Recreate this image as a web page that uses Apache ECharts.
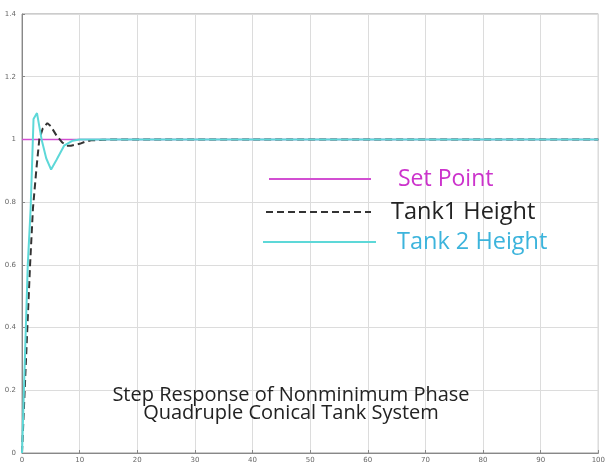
<!DOCTYPE html>
<html>
<head>
<meta charset="utf-8">
<script src="https://cdn.jsdelivr.net/npm/echarts@6/dist/echarts.min.js"></script>
<style>
  html, body { margin: 0; padding: 0; background: #fff; }
  #chart { width: 608px; height: 464px; }
</style>
</head>
<body>
<div id="chart"></div>
<script>
// Time axis ticks and range
const xTicks = [0, 10, 20, 30, 40, 50, 60, 70, 80, 90, 100];
const yTicks = [0, 0.2, 0.4, 0.6, 0.8, 1, 1.2, 1.4];

// Set point (unit step)
const setPointT = [0, 100];
const setPointY = [1, 1];

// Tank 1 height response
const tank1T = [0, 1, 1.4, 1.9, 2.5, 3.0, 3.6, 4.4, 5.0, 6.0, 7.0, 7.7, 8.5, 10, 11, 12, 14, 16, 20, 100];
const tank1Y = [0, 0.43, 0.6, 0.78, 0.906, 1.0, 1.035, 1.052, 1.042, 1.012, 0.99, 0.98, 0.98, 0.986, 0.993, 0.997, 0.999, 1, 1, 1];

// Tank 2 height response
const tank2T = [0, 1.0, 1.5, 2.0, 2.6, 3.4, 4.2, 5.05, 6.0, 7.3, 8.8, 10, 12, 100];
const tank2Y = [0, 0.6, 0.78, 1.065, 1.084, 1.0, 0.94, 0.904, 0.935, 0.98, 0.996, 1.0, 1.0, 1.0];

const seriesNames = ['Set Point', 'Tank1 Height', 'Tank 2 Height'];
const titleLines = ['Step Response of Nonminimum Phase', 'Quadruple Conical Tank System'];

const zip = (a, b) => a.map((v, i) => [v, b[i]]);

const chart = echarts.init(document.getElementById('chart'), null, { renderer: 'canvas' });

const legendFont = { fontFamily: 'Open Sans', fontSize: 23, lineHeight: 24 };
// hide the marker dot, keep only the line sample
const legendItem = { opacity: 0 };

chart.setOption({
  backgroundColor: '#ffffff',
  animation: false,
  title: {
    text: titleLines.join('\n'),
    left: 286,
    top: 381,
    textAlign: 'center',
    textStyle: { fontFamily: 'Open Sans', fontSize: 20, fontWeight: 'normal', color: '#222', lineHeight: 18 }
  },
  grid: {
    left: 22, right: 5, top: 14, bottom: 8,
    show: true, borderColor: '#999', borderWidth: 1, backgroundColor: '#fff'
  },
  legend: [
    {
      data: [seriesNames[0]], left: 263, top: 162, itemWidth: 102, itemHeight: 14,
      itemStyle: legendItem,
      textStyle: Object.assign({ color: '#cc33cc', padding: [0, 0, 0, 22] }, legendFont)
    },
    {
      data: [seriesNames[1]], left: 260, top: 195, itemWidth: 105, itemHeight: 14,
      itemStyle: legendItem,
      textStyle: Object.assign({ color: '#222', padding: [0, 0, 0, 15] }, legendFont, { fontSize: 23.5 })
    },
    {
      data: [seriesNames[2]], left: 257, top: 225, itemWidth: 113, itemHeight: 14,
      itemStyle: legendItem,
      textStyle: Object.assign({ color: '#3cb4dc', padding: [0, 0, 0, 16] }, legendFont, { fontSize: 23.5 })
    }
  ],
  xAxis: {
    type: 'value', min: xTicks[0], max: xTicks[xTicks.length - 1], interval: 10,
    axisLine: { show: true, lineStyle: { color: '#888' } },
    axisTick: { show: true, inside: true, length: 3, lineStyle: { color: '#888' } },
    axisLabel: { color: '#666', fontSize: 7, margin: 4, fontFamily: 'DejaVu Sans' },
    splitLine: { show: true, lineStyle: { color: '#dcdcdc', width: 1 } }
  },
  yAxis: {
    type: 'value', min: yTicks[0], max: yTicks[yTicks.length - 1], interval: 0.2,
    axisLine: { show: true, lineStyle: { color: '#888' } },
    axisTick: { show: true, inside: true, length: 3, lineStyle: { color: '#888' } },
    axisLabel: {
      color: '#666', fontSize: 7, margin: 6, fontFamily: 'DejaVu Sans',
      formatter: v => String(Math.round(v * 10) / 10)
    },
    splitLine: { show: true, lineStyle: { color: '#dcdcdc', width: 1 } }
  },
  series: [
    {
      name: seriesNames[0], type: 'line', showSymbol: false, symbol: 'none',
      data: zip(setPointT, setPointY),
      lineStyle: { color: '#d24fd2', width: 1.5 }, itemStyle: { color: '#d24fd2' }, z: 2
    },
    {
      name: seriesNames[1], type: 'line', showSymbol: false, symbol: 'none',
      data: zip(tank1T, tank1Y),
      lineStyle: { color: '#333', width: 2, type: [7, 4] }, itemStyle: { color: '#333' }, z: 3
    },
    {
      name: seriesNames[2], type: 'line', showSymbol: false, symbol: 'none',
      data: zip(tank2T, tank2Y),
      lineStyle: { color: '#5dd8d8', width: 2 }, itemStyle: { color: '#5dd8d8' }, z: 4
    }
  ]
});
</script>
</body>
</html>
